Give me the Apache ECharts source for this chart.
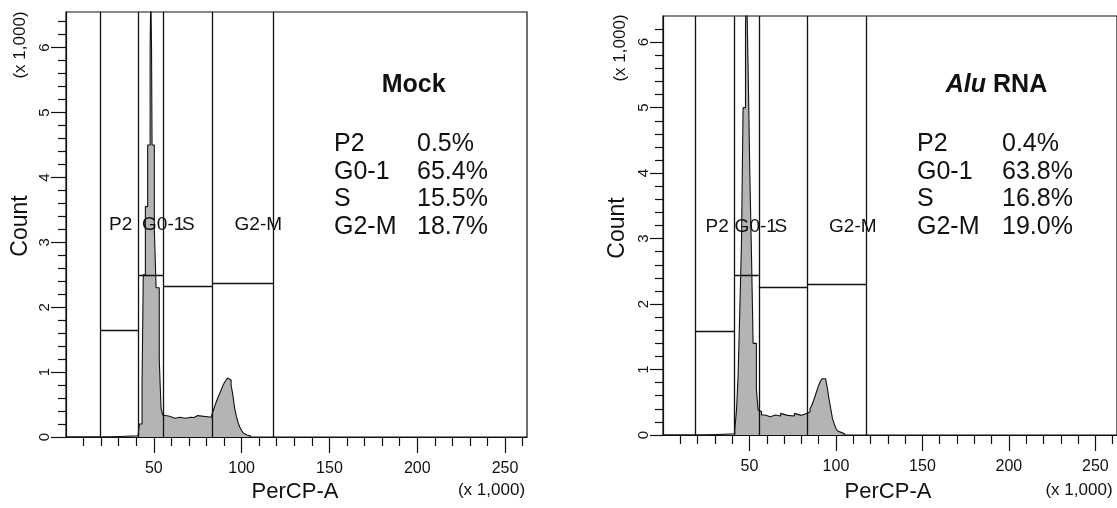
<!DOCTYPE html>
<html><head><meta charset="utf-8">
<script src="https://cdn.jsdelivr.net/npm/echarts@6/dist/echarts.min.js"></script>
<style>html,body{margin:0;padding:0;background:#fff}#c{width:1117px;height:508px}</style>
</head><body><div id="c"></div>
<script>
// ---- data (x in thousands of PerCP-A, counts in thousands) ----
const mockBinX  = [0, 24, 41, 41.8, 43.3, 44, 45.2, 46.5, 47.9, 48.3, 48.7, 49, 50.3, 51.3, 53.1, 54.1, 55, 56, 59, 62, 65, 68, 71, 73, 75, 83, 84, 85, 86, 87, 88, 89, 90, 91, 92, 93, 94, 95, 96, 97, 98, 99, 100, 101, 102, 103, 105];
const mockCount = [0, 0.02, 0.05, 0.2, 0.8, 2.5, 3.55, 4.5, 6.0, 6.9, 6.0, 4.5, 3.2, 2.3, 1.2, 0.45, 0.34, 0.32, 0.29, 0.305, 0.29, 0.305, 0.3, 0.33, 0.305, 0.34, 0.42, 0.5, 0.57, 0.64, 0.70, 0.77, 0.83, 0.87, 0.91, 0.88, 0.8, 0.65, 0.45, 0.32, 0.22, 0.15, 0.1, 0.06, 0.03, 0.02, 0];
const aluBinX   = [0, 24, 41.5, 42.5, 43.4, 44.4, 45.4, 46.3, 47.7, 48.3, 49.2, 50.2, 51.2, 52.1, 54, 55, 56, 57, 59, 62, 65, 68, 69, 72, 73, 76, 77, 80, 83, 84, 85, 86, 87, 88, 89, 90, 91, 92, 93, 94, 95, 96, 97, 98, 99, 100, 101, 102, 103, 105];
const aluCount  = [0, 0.02, 0.08, 0.38, 0.89, 1.9, 2.97, 5.0, 6.25, 6.9, 5.62, 4.0, 2.7, 1.4, 0.7, 0.38, 0.36, 0.305, 0.28, 0.305, 0.29, 0.33, 0.3, 0.33, 0.29, 0.33, 0.3, 0.33, 0.33, 0.35, 0.40, 0.45, 0.52, 0.60, 0.68, 0.76, 0.82, 0.86, 0.86, 0.84, 0.72, 0.55, 0.40, 0.25, 0.17, 0.10, 0.06, 0.04, 0.02, 0];

const gateNames = ['P2', 'G0-1', 'S', 'G2-M'];
const mockGateEdges   = [19.6, 41.2, 55.4, 83.1, 117.9];
const mockGateHeights = [1.64, 2.50, 2.33, 2.37];
const mockGateLabelX  = [24.5, 43.3, 66.0, 96.0];
const mockGateLabelY  = 3.27;
const aluGateEdges    = [18.9, 41.1, 55.4, 83.5, 117.5];
const aluGateHeights  = [1.59, 2.44, 2.25, 2.30];
const aluGateLabelX   = [24.6, 41.4, 64.4, 96.0];
const aluGateLabelY   = 3.18;

const statNames  = ['P2', 'G0-1', 'S', 'G2-M'];
const mockStats  = ['0.5%', '65.4%', '15.5%', '18.7%'];
const aluStats   = ['0.4%', '63.8%', '16.8%', '19.0%'];

const xTickValues      = [50, 100, 150, 200, 250];
const xMinorTickValues = [10, 20, 30, 40, 60, 70, 80, 90, 110, 120, 130, 140, 160, 170, 180, 190, 210, 220, 230, 240, 260];
const yTickValues      = [0, 1, 2, 3, 4, 5, 6];
const yMinorTickValues = [0.2, 0.4, 0.6, 0.8, 1.2, 1.4, 1.6, 1.8, 2.2, 2.4, 2.6, 2.8, 3.2, 3.4, 3.6, 3.8, 4.2, 4.4, 4.6, 4.8, 5.2, 5.4, 5.6, 5.8, 6.2, 6.4];
const xMax = 262.5;
const mockYMax = 6.55;
const aluYMax = 6.4;

// ---- styling ----
const INK = '#111111';
const FILL = '#b4b4b4';
const SANS = 'Liberation Sans, Arial, sans-serif';

const panels = [
  {grid: {left: 66, top: 12, width: 461, height: 425}, yMax: mockYMax, binX: mockBinX, count: mockCount,
   edges: mockGateEdges, heights: mockGateHeights, labX: mockGateLabelX, labY: mockGateLabelY,
   yTickLen: 15, yMinorLen: 8, yMargin: 14},
  {grid: {left: 663, top: 16, width: 454, height: 419}, yMax: aluYMax, binX: aluBinX, count: aluCount,
   edges: aluGateEdges, heights: aluGateHeights, labX: aluGateLabelX, labY: aluGateLabelY,
   yTickLen: 13, yMinorLen: 8, yMargin: 12}
];

const grids = [], xAxes = [], yAxes = [], series = [];
panels.forEach((p, gi) => {
  grids.push(Object.assign({show: true, borderColor: INK, borderWidth: 1.2, backgroundColor: 'transparent'}, p.grid));
  const xi = xAxes.length, yi = yAxes.length;
  xAxes.push({gridIndex: gi, type: 'value', min: 0, max: xMax, position: 'bottom',
    axisLine: {show: true, onZero: false, lineStyle: {color: INK, width: 1.2}},
    axisTick: {show: true, customValues: xTickValues, length: 16, lineStyle: {color: INK, width: 1.2}},
    axisLabel: {show: true, customValues: xTickValues, margin: 24, fontSize: 16, color: INK, fontFamily: SANS},
    splitLine: {show: false}});
  xAxes.push({gridIndex: gi, type: 'value', min: 0, max: xMax, position: 'bottom',
    axisLine: {show: false},
    axisTick: {show: true, customValues: xMinorTickValues, length: 9, lineStyle: {color: INK, width: 1.2}},
    axisLabel: {show: false}, splitLine: {show: false}});
  yAxes.push({gridIndex: gi, type: 'value', min: 0, max: p.yMax, position: 'left',
    axisLine: {show: true, onZero: false, lineStyle: {color: INK, width: 1.2}},
    axisTick: {show: true, customValues: yTickValues, length: p.yTickLen, lineStyle: {color: INK, width: 1.2}},
    axisLabel: {show: true, customValues: yTickValues, rotate: 90, margin: p.yMargin, fontSize: 15, color: INK, fontFamily: SANS},
    splitLine: {show: false}});
  yAxes.push({gridIndex: gi, type: 'value', min: 0, max: p.yMax, position: 'left',
    axisLine: {show: false},
    axisTick: {show: true, customValues: yMinorTickValues.filter(v => v < p.yMax - 0.01), length: p.yMinorLen, lineStyle: {color: INK, width: 1.2}},
    axisLabel: {show: false}, splitLine: {show: false}});

  // histogram (step outline, grey fill)
  series.push({type: 'line', xAxisIndex: xi, yAxisIndex: yi, step: 'end', symbol: 'none', clip: true,
    data: p.binX.map((x, i) => [x, p.count[i]]),
    lineStyle: {color: INK, width: 1.1}, areaStyle: {color: FILL, opacity: 1}, z: 2, animation: false});

  // gates
  const gateLines = [];
  const seen = new Set();
  p.edges.forEach(e => { if (!seen.has(e)) { seen.add(e); gateLines.push({coords: [[e, 0], [e, p.yMax]]}); } });
  p.heights.forEach((h, i) => gateLines.push({coords: [[p.edges[i], h], [p.edges[i + 1], h]]}));
  series.push({type: 'lines', coordinateSystem: 'cartesian2d', xAxisIndex: xi, yAxisIndex: yi,
    data: gateLines, lineStyle: {color: INK, width: 1.3, opacity: 1}, z: 4, animation: false, silent: true});

  // gate labels
  series.push({type: 'scatter', xAxisIndex: xi, yAxisIndex: yi, symbolSize: 0,
    itemStyle: {color: INK, opacity: 1},
    data: gateNames.map((n, i) => [p.labX[i], p.labY, n]),
    label: {show: true, position: 'right', distance: 0, formatter: q => q.data[2],
      fontSize: 19, color: INK, opacity: 1, fontFamily: SANS},
    z: 5, animation: false, silent: true});
});

// ---- text annotations ----
const graphic = [];
function txt(x, y, text, opts) {
  graphic.push(Object.assign({type: 'text', x: x, y: y, silent: true,
    style: Object.assign({text: text, fill: INK, fontFamily: SANS, fontSize: 16, align: 'center', verticalAlign: 'middle'}, opts.style || {})},
    opts.rotation ? {rotation: opts.rotation} : {}));
}
const rowY = [144, 171.7, 199.3, 226.7];
// left panel
txt(413.7, 85, 'Mock', {style: {fontSize: 25, fontWeight: 'bold'}});
statNames.forEach((n, i) => {
  txt(334, rowY[i], n, {style: {fontSize: 25, align: 'left'}});
  txt(417, rowY[i], mockStats[i], {style: {fontSize: 25, align: 'left'}});
});
txt(20.5, 226, 'Count', {rotation: Math.PI / 2, style: {fontSize: 23}});
txt(20, 45, '(x 1,000)', {rotation: Math.PI / 2, style: {fontSize: 17}});
txt(295, 492, 'PerCP-A', {style: {fontSize: 22}});
txt(491.5, 490, '(x 1,000)', {style: {fontSize: 17}});
// right panel
graphic.push({type: 'text', x: 996.5, y: 85, silent: true,
  style: {text: '{i|Alu} RNA', fill: INK, fontFamily: SANS, fontSize: 25, fontWeight: 'bold', align: 'center', verticalAlign: 'middle',
    rich: {i: {fontStyle: 'italic', fontWeight: 'bold', fontSize: 25, fontFamily: SANS, fill: INK}}}});
statNames.forEach((n, i) => {
  txt(917, rowY[i], n, {style: {fontSize: 25, align: 'left'}});
  txt(1002, rowY[i], aluStats[i], {style: {fontSize: 25, align: 'left'}});
});
txt(617.5, 228, 'Count', {rotation: Math.PI / 2, style: {fontSize: 23}});
txt(620, 48, '(x 1,000)', {rotation: Math.PI / 2, style: {fontSize: 17}});
txt(888, 492, 'PerCP-A', {style: {fontSize: 22}});
txt(1079, 490, '(x 1,000)', {style: {fontSize: 17}});

const chart = echarts.init(document.getElementById('c'), null, {renderer: 'canvas'});
chart.setOption({
  animation: false,
  backgroundColor: '#ffffff',
  grid: grids, xAxis: xAxes, yAxis: yAxes, series: series, graphic: graphic
});
</script>
</body></html>
